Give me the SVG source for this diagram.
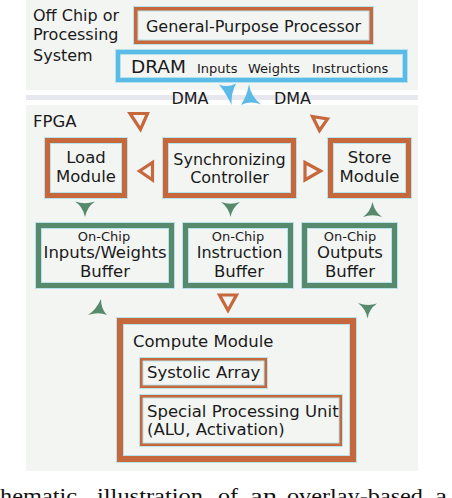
<svg xmlns="http://www.w3.org/2000/svg" width="452" height="498" viewBox="0 0 452 498">
<style>
text{font-family:"DejaVu Sans","Liberation Sans",sans-serif;fill:#1a1a1a}
.t16{font-size:16px}
.t165{font-size:16.5px}
.t13{font-size:13px}
.t135{font-size:13px}
.c{text-anchor:middle}
.halo{fill:none;stroke:#b6e2ea}
.or{fill:none;stroke:#c6673c}
.gr{fill:none;stroke:#578a6d}
.bl{fill:none;stroke:#5bbbe8}
.oarr{fill:none;stroke:#c6673c;stroke-width:3.2;stroke-linejoin:miter}
.garr{fill:#578a6d}
.barr{fill:#5bbbe8}
.cap{font-family:"Liberation Serif",serif;font-size:21.5px;fill:#111}
</style>
<rect x="26" y="0" width="392" height="90" fill="#f3f5f3"/>
<rect x="26" y="95" width="392" height="5" fill="#e6e7ef"/>
<rect x="26" y="105" width="392" height="366" fill="#f3f5f3"/>
<text class="t16" x="33" y="21">Off Chip or</text>
<text class="t16" x="33" y="40">Processing</text>
<text class="t16" x="33" y="60.5">System</text>
<text class="t165" x="33" y="127">FPGA</text>
<text class="t16 c" x="190" y="104">DMA</text>
<text class="t16 c" x="292.5" y="104">DMA</text>
<g id="gpp">
<rect class="halo" x="135.75" y="8.75" width="235.5" height="33.5" stroke-width="5.5"/>
<rect class="or" x="135.75" y="8.75" width="235.5" height="33.5" stroke-width="3.5"/>
<text class="t16 c" x="253.5" y="32">General-Purpose Processor</text>
</g>
<g id="dram">
<rect class="halo" x="118" y="52" width="287" height="28" stroke-width="6"/>
<rect class="bl" x="118" y="52" width="287" height="28" stroke-width="4"/>
<text x="131" y="73" style="font-size:18.5px">DRAM</text>
<text class="t13" x="197" y="72.5">Inputs</text>
<text class="t13" x="248" y="72.5">Weights</text>
<text class="t13" x="312" y="72.5">Instructions</text>
</g>
<g id="load">
<rect class="halo" x="47.5" y="140.5" width="77" height="55" stroke-width="7"/>
<rect class="or" x="47.5" y="140.5" width="77" height="55" stroke-width="5"/>
<text class="t165 c" x="86" y="163">Load</text>
<text class="t165 c" x="86" y="182">Module</text>
</g>
<g id="sync">
<rect class="halo" x="165.5" y="140.5" width="128" height="55" stroke-width="7"/>
<rect class="or" x="165.5" y="140.5" width="128" height="55" stroke-width="5"/>
<text class="t16 c" x="229.5" y="165">Synchronizing</text>
<text class="t16 c" x="229.5" y="183">Controller</text>
</g>
<g id="store">
<rect class="halo" x="330.5" y="140.5" width="78" height="55" stroke-width="7"/>
<rect class="or" x="330.5" y="140.5" width="78" height="55" stroke-width="5"/>
<text class="t165 c" x="369.5" y="163">Store</text>
<text class="t165 c" x="369.5" y="182">Module</text>
</g>
<g id="inbuf">
<rect class="halo" x="38.5" y="225.5" width="133" height="60" stroke-width="7"/>
<rect class="gr" x="38.5" y="225.5" width="133" height="60" stroke-width="5"/>
<text class="t135 c" x="104" y="240.5">On-Chip</text>
<text class="t165 c" x="105" y="258">Inputs/Weights</text>
<text class="t165 c" x="105" y="277">Buffer</text>
</g>
<g id="instbuf">
<rect class="halo" x="185.5" y="225.5" width="105" height="60" stroke-width="7"/>
<rect class="gr" x="185.5" y="225.5" width="105" height="60" stroke-width="5"/>
<text class="t135 c" x="238" y="240.5">On-Chip</text>
<text class="t16 c" x="239.5" y="258">Instruction</text>
<text class="t165 c" x="239" y="277">Buffer</text>
</g>
<g id="outbuf">
<rect class="halo" x="304.5" y="225.5" width="90" height="60" stroke-width="7"/>
<rect class="gr" x="304.5" y="225.5" width="90" height="60" stroke-width="5"/>
<text class="t135 c" x="350" y="240.5">On-Chip</text>
<text class="t165 c" x="350" y="258">Outputs</text>
<text class="t165 c" x="350" y="277">Buffer</text>
</g>
<g id="compute">
<rect class="halo" x="120" y="321" width="233" height="138" stroke-width="8"/>
<rect class="or" x="120" y="321" width="233" height="138" stroke-width="6"/>
<text class="t165" x="133" y="347">Compute Module</text>
</g>
<g id="systolic">
<rect class="halo" x="141.25" y="359.25" width="124.5" height="27.5" stroke-width="4.5"/>
<rect class="or" x="141.25" y="359.25" width="124.5" height="27.5" stroke-width="2.5"/>
<text class="t165" x="147" y="378">Systolic Array</text>
</g>
<g id="spu">
<rect class="halo" x="141.25" y="396.25" width="199.5" height="48.5" stroke-width="4.5"/>
<rect class="or" x="141.25" y="396.25" width="199.5" height="48.5" stroke-width="2.5"/>
<text class="t165" x="147" y="416.5">Special Processing Unit</text>
<text class="t165" x="147" y="435">(ALU, Activation)</text>
</g>
<g id="connectors">
<path class="barr" d="M219,84.5 Q227.5,88 236,83.5 Q231,93 231.5,105 Q226,93 219,84.5 Z"/>
<path class="barr" d="M249,84 Q250.5,96 261,104.5 Q251,100.5 241,105 Q247,96 249,84 Z"/>
<polygon class="oarr" points="130,113.5 147.5,113.5 140.5,129.5"/>
<polygon class="oarr" points="312.5,116.5 327.5,119 319.5,130.5"/>
<polygon class="oarr" points="139.5,171 152.5,162.5 152.5,180"/>
<polygon class="oarr" points="320.5,171 305,162.5 305,180"/>
<polygon class="oarr" points="219.5,295 236.5,295 228,310.5"/>
<path class="garr" d="M75,201.5 Q85,205 95,201.5 Q87,207 85,217 Q83,207 75,201.5 Z"/>
<path class="garr" d="M221,202 Q230.5,205.5 240,202 Q232.5,207.5 230.5,217 Q228.5,207.5 221,202 Z"/>
<path class="garr" d="M363,217 Q372.5,213.5 382,217 Q374.5,211.5 372.5,202 Q370.5,211.5 363,217 Z"/>
<path class="garr" d="M88,315 Q98,311.5 107,315 Q101,309 101,299 Q96,310 88,315 Z"/>
<path class="garr" d="M358,303 Q367.5,306.5 377,303.5 Q369,309 367.5,318.5 Q366,309 358,303 Z"/>
</g>
<g id="caption">
<text class="cap" x="0" y="503" textLength="77" lengthAdjust="spacingAndGlyphs">hematic</text>
<text class="cap" x="97" y="503" textLength="106" lengthAdjust="spacingAndGlyphs">illustration</text>
<text class="cap" x="218" y="503" textLength="20" lengthAdjust="spacingAndGlyphs">of</text>
<text class="cap" x="250" y="503" textLength="27" lengthAdjust="spacingAndGlyphs">an</text>
<text class="cap" x="287" y="503" textLength="136" lengthAdjust="spacingAndGlyphs">overlay-based</text>
<text class="cap" x="435" y="503" textLength="12" lengthAdjust="spacingAndGlyphs">a</text>
</g>
</svg>
